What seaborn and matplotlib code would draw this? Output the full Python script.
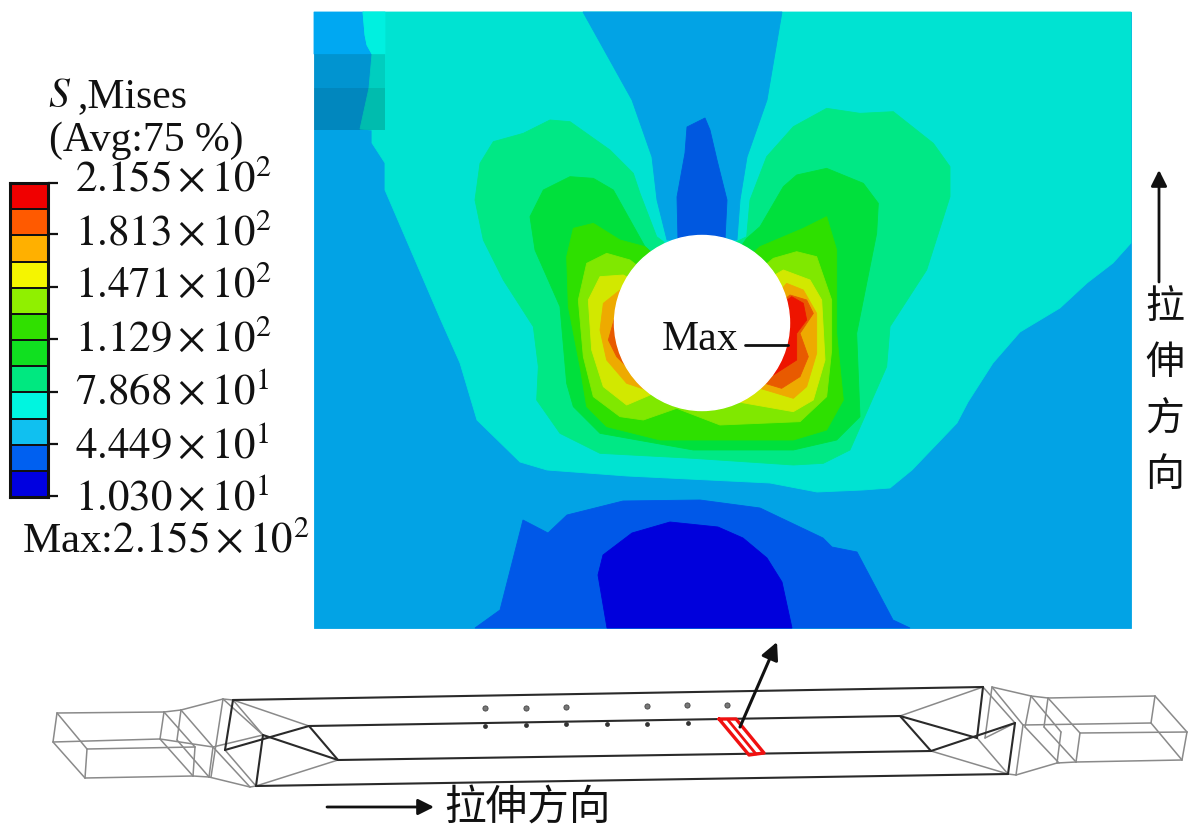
import numpy as np
import matplotlib
matplotlib.use("Agg")
import matplotlib.pyplot as plt
from matplotlib.colors import ListedColormap
from matplotlib.patches import Circle
import seaborn as sns

# ---------- legend ----------
legend_colors = ["#f00000", "#ff5a00", "#ffb000", "#f5f500", "#90f000", "#30e000",
                 "#10e020", "#00e880", "#00f5e0", "#10c0f0", "#0060f0", "#0000e0"]
legend_labels = [r"$2.155\times10^{2}$", r"$1.813\times10^{2}$", r"$1.471\times10^{2}$",
                 r"$1.129\times10^{2}$", r"$7.868\times10^{1}$", r"$4.449\times10^{1}$",
                 r"$1.030\times10^{1}$"]
legend_label_y = [180, 234, 286, 340, 393, 447, 499]
legend_tick_y = [183, 234, 287, 339, 392, 444, 496]

# ---------- contour bands (image pixels) ----------
col_base = "#02a3e5"
col_teal = "#00e3d2"
col_mint = "#00e885"
col_green = "#00e03c"
col_lime = "#2ee000"
col_yg = "#80e800"
col_yellow = "#d2e800"
col_orange = "#eeaa00"
col_dorange = "#e85a00"
col_red = "#ee1400"
col_mid = "#0058e8"
col_dark = "#0000dc"
col_wedge = "#02a3e5"
col_spike = "#0058e0"
col_corner = "#00a8f2"
col_cyan = "#00f0e0"

teal_outline = [(363, 12), (1131, 12), (1131, 243), (1113, 263), (1087, 283), (1060, 308),
                (1020, 332), (993, 363), (968, 402), (957, 423), (912, 470), (890, 488),
                (863, 490), (817, 492), (770, 483), (627, 476), (547, 470), (520, 462),
                (477, 420), (460, 363), (440, 318), (385, 190), (385, 163), (372, 143),
                (372, 130), (360, 129), (369, 88), (372, 54), (367, 45), (365, 35)]
wedge_outline = [(583, 12), (782, 12), (767, 100), (747, 157), (740, 200), (737, 240),
                 (667, 240), (657, 200), (652, 157), (632, 100)]
spike_outline = [(705, 118), (687, 127), (685, 153), (677, 197), (678, 240), (725, 240),
                 (727, 200), (717, 160), (710, 130)]
corner_outline = [(314, 12), (363, 12), (365, 35), (367, 45), (372, 54), (314, 54)]
cyan_outline = [(363, 12), (385, 12), (385, 54), (372, 54), (367, 45), (365, 35)]

mint_crop = [(610, 425), (590, 410), (540, 280), (520, 220), (450, 150), (330, 65), (270, 60),
             (190, 100), (100, 125), (60, 190), (45, 300), (70, 420), (130, 540), (220, 680),
             (235, 800), (230, 900), (300, 1000), (420, 1060), (700, 1075), (1000, 1095),
             (1090, 1090), (1170, 1050), (1280, 800), (1290, 680), (1400, 510), (1470, 290),
             (1470, 200), (1420, 130), (1300, 35), (1200, 40), (1100, 25), (1000, 80),
             (920, 170), (870, 300), (860, 410), (830, 425), (730, 600)]
green_crop = [(555, 440), (460, 270), (400, 235), (330, 230), (250, 270), (210, 350), (225, 450),
              (300, 620), (320, 850), (340, 920), (420, 1000), (700, 1050), (1000, 1050),
              (1130, 1020), (1200, 950), (1190, 700), (1250, 400), (1255, 310), (1210, 250),
              (1100, 205), (1010, 225), (970, 260), (900, 380), (860, 415), (730, 600)]
lime_crop = [(555, 440), (480, 420), (400, 370), (340, 385), (320, 470), (325, 620), (360, 800),
             (380, 920), (440, 980), (600, 1020), (800, 1020), (1000, 1020), (1100, 990),
             (1150, 900), (1130, 700), (1130, 450), (1100, 350), (1030, 385), (900, 440),
             (730, 600)]
yg_crop = [(510, 480), (440, 460), (380, 490), (355, 600), (370, 770), (400, 890), (480, 950),
           (550, 960), (650, 925), (780, 975), (1020, 965), (1100, 890), (1115, 750),
           (1115, 600), (1070, 470), (1010, 455), (940, 475), (730, 650)]
yellow_crop = [(490, 525), (420, 530), (385, 600), (395, 750), (430, 860), (500, 915), (570, 885),
               (730, 650), (830, 905), (1000, 935), (1060, 900), (1095, 780), (1085, 600),
               (1050, 540), (970, 510), (730, 650)]
orange_left_crop = [(480, 570), (430, 610), (420, 690), (440, 780), (500, 850), (560, 870), (650, 700)]
orange_right_crop = [(900, 865), (1000, 895), (1040, 860), (1070, 760), (1070, 640), (1030, 570),
                     (980, 550), (850, 700)]
dorange_left_crop = [(465, 650), (445, 720), (470, 770), (510, 810), (600, 700)]
dorange_right_crop = [(915, 850), (965, 865), (1020, 830), (1045, 770), (1020, 700), (1060, 640),
                      (1040, 600), (990, 585), (850, 700)]
red_right_crop = [(940, 825), (1010, 780), (1010, 700), (1040, 660), (1030, 610), (995, 590), (850, 700)]

mid_outline = [(475, 628), (500, 610), (523, 520), (548, 533), (567, 515), (623, 501), (700, 500),
               (760, 508), (823, 538), (832, 547), (857, 552), (893, 620), (910, 628)]
dark_outline = [(607, 628), (598, 575), (603, 555), (632, 533), (670, 522), (718, 527),
                (743, 538), (767, 558), (782, 582), (792, 628)]

# ---------- wireframe (image pixels) ----------
wire_thin = [
    ((57, 713), (164, 712)), ((57, 713), (53, 742)), ((57, 713), (87, 749)), ((53, 742), (85, 778)),
    ((87, 749), (85, 778)), ((85, 778), (193, 776)), ((53, 742), (160, 739)), ((87, 749), (195, 747)),
    ((164, 712), (160, 739)), ((164, 712), (195, 747)), ((160, 739), (193, 776)), ((195, 747), (193, 776)),
    ((164, 712), (181, 710)), ((181, 710), (223, 699)), ((223, 699), (233, 700)), ((181, 710), (177, 740)),
    ((181, 710), (213, 747)), ((177, 740), (209, 777)), ((193, 776), (209, 777)), ((209, 777), (250, 787)),
    ((213, 747), (209, 777)), ((223, 699), (211, 777)), ((213, 747), (250, 787)), ((223, 699), (263, 735)),
    ((160, 739), (213, 747)), ((213, 747), (263, 735)), ((233, 700), (309, 726)), ((256, 786), (338, 760)),
    ((233, 700), (263, 735)), ((225, 750), (256, 786)), ((250, 787), (256, 786)),
    ((900, 716), (983, 687)), ((931, 751), (1008, 774)), ((983, 687), (1015, 723)), ((977, 738), (1008, 774)),
    ((992, 687), (1023, 725)), ((992, 687), (985, 738)), ((985, 738), (1015, 723)), ((1023, 725), (1016, 775)),
    ((1008, 774), (1016, 775)), ((1016, 775), (1057, 763)), ((1057, 763), (1076, 762)), ((1076, 762), (1182, 760)),
    ((1182, 760), (1187, 732)), ((1155, 696), (1187, 732)), ((1155, 696), (1151, 723)), ((1151, 723), (1182, 760)),
    ((1048, 698), (1155, 696)), ((992, 687), (1031, 696)), ((1031, 696), (1048, 698)), ((1031, 696), (1061, 732)),
    ((1048, 698), (1080, 733)), ((1080, 733), (1076, 762)), ((1061, 732), (1057, 763)), ((1080, 733), (1187, 732)),
    ((1023, 725), (1151, 723)), ((1031, 696), (1025, 727)), ((1048, 698), (1044, 727)), ((1025, 727), (1059, 763)),
    ((1044, 727), (1076, 762)),
]
wire_thick = [
    ((233, 700), (983, 687)), ((309, 726), (900, 716)), ((338, 760), (931, 751)), ((256, 786), (1008, 774)),
    ((309, 726), (338, 760)), ((233, 700), (225, 750)), ((225, 750), (309, 726)), ((263, 735), (338, 760)),
    ((263, 735), (256, 786)), ((900, 716), (931, 751)), ((900, 716), (977, 738)), ((931, 751), (1015, 723)),
    ((983, 687), (977, 738)), ((1015, 723), (1008, 774)),
]
red_box = [(719, 719), (736, 719), (764, 753), (749, 755)]
red_mid = [(728, 720), (756, 754)]
hole_top_x = [485, 526, 566, 647, 687, 727]
hole_top_y = [708, 708, 707, 706, 705, 705]
hole_low_x = [485, 526, 566, 607, 647, 688]
hole_low_y = [726, 725, 724, 724, 724, 723]

direction_chars = ["拉", "伸", "方", "向"]
direction_y = [308, 363, 420, 475]

# ---------- drawing ----------
sns.set_theme(style="white")
plt.rcParams["font.family"] = ["Liberation Serif", "Noto Sans CJK SC", "DejaVu Sans"]
plt.rcParams["mathtext.fontset"] = "stix"

fig = plt.figure(figsize=(12, 8.4), dpi=100)
ax = fig.add_axes([0, 0, 1, 1])
ax.set_xlim(0, 1200)
ax.set_ylim(840, 0)
ax.axis("off")


def from_crop(points):
    return [(460 + x / 3, 100 + y / 3) for x, y in points]


def fill(points, color, z):
    xs, ys = zip(*points)
    ax.fill(xs, ys, facecolor=color, edgecolor=color, linewidth=0.6, zorder=z)


fill([(314, 12), (1131, 12), (1131, 628), (314, 628)], col_base, 1)
fill(corner_outline, col_corner, 1.5)
fill(teal_outline, col_teal, 2)
fill(cyan_outline, col_cyan, 2.5)
fill(mid_outline, col_mid, 2.5)
fill(dark_outline, col_dark, 2.6)
bands = [(mint_crop, col_mint), (green_crop, col_green), (lime_crop, col_lime), (yg_crop, col_yg),
         (yellow_crop, col_yellow), (orange_left_crop, col_orange), (orange_right_crop, col_orange),
         (dorange_left_crop, col_dorange), (dorange_right_crop, col_dorange), (red_right_crop, col_red)]
fill(wedge_outline, col_wedge, 3)
fill(spike_outline, col_spike, 3.1)
for i, (pts, c) in enumerate(bands):
    fill(from_crop(pts), c, 4 + i * 0.1)
ax.add_patch(Circle((702, 323), 87.5, facecolor="white", edgecolor="white", zorder=6))
ax.fill([314, 385, 385, 314], [54, 54, 88, 88], color="black", alpha=0.09, lw=0, zorder=5)
ax.fill([314, 385, 385, 314], [88, 88, 130, 130], color="black", alpha=0.17, lw=0, zorder=5)

ax.text(700, 340, "Max", fontsize=30, ha="center", va="center", color="#111111", zorder=7)
ax.plot([745, 788], [345, 345], color="#111111", lw=2, zorder=7)

# legend: colour bar
cax = fig.add_axes([9.5 / 1200, 1 - 497 / 840, 38.5 / 1200, 314 / 840])
sns.heatmap(np.arange(len(legend_colors)).reshape(-1, 1), ax=cax, cmap=ListedColormap(legend_colors),
            cbar=False, linewidths=1.3, linecolor="#111111", xticklabels=False, yticklabels=False)
for side in cax.spines.values():
    side.set_visible(True)
    side.set_linewidth(2.2)
    side.set_color("#111111")
for y in legend_tick_y:
    ax.plot([48, 58], [y, y], color="#111111", lw=1.6, zorder=7, solid_capstyle="butt")
for lab, y in zip(legend_labels, legend_label_y):
    ax.text(75, y, lab, fontsize=31, ha="left", va="center", color="#111111")
ax.text(48, 97, r"$S$", fontsize=30, ha="left", va="center", color="#111111")
ax.text(77, 97, ",Mises", fontsize=30, ha="left", va="center", color="#111111")
ax.text(146, 141, "(Avg:75 %)", fontsize=30, ha="center", va="center", color="#111111")
ax.text(22, 541, r"Max:$2.155\times10^{2}$", fontsize=31, ha="left", va="center", color="#111111")

# direction arrows and labels
ax.annotate("", xy=(1159, 170), xytext=(1159, 282),
            arrowprops=dict(arrowstyle="-|>", color="#111111", lw=2, mutation_scale=24, shrinkA=0, shrinkB=0))
for ch, y in zip(direction_chars, direction_y):
    ax.text(1165, y, ch, fontsize=28, ha="center", va="center", color="#111111", family=["Noto Sans CJK SC"])
ax.annotate("", xy=(434, 807), xytext=(327, 807),
            arrowprops=dict(arrowstyle="-|>", color="#111111", lw=2, mutation_scale=24, shrinkA=0, shrinkB=0))
ax.text(527, 809, "".join(direction_chars), fontsize=30, ha="center", va="center", color="#111111",
        family=["Noto Sans CJK SC"])

# wireframe
for a, b in wire_thin:
    ax.plot([a[0], b[0]], [a[1], b[1]], color="#8a8a8a", lw=1.1, zorder=3)
for a, b in wire_thick:
    ax.plot([a[0], b[0]], [a[1], b[1]], color="#2a2a2a", lw=1.5, zorder=3)
rx, ry = zip(*(red_box + red_box[:1]))
ax.plot(rx, ry, color="#f01010", lw=2.4, zorder=4)
ax.plot(*zip(*red_mid), color="#f01010", lw=2.0, zorder=4)
ax.annotate("", xy=(777, 642), xytext=(740, 727),
            arrowprops=dict(arrowstyle="-|>", color="#111111", lw=2.2, mutation_scale=26, shrinkA=0, shrinkB=0),
            zorder=5)
ax.scatter(hole_top_x, hole_top_y, s=14, color="#777777", edgecolor="#444444", lw=0.6, zorder=4)
ax.scatter(hole_low_x, hole_low_y, s=12, color="#333333", lw=0, zorder=4)

fig.savefig("out.png", dpi=100, facecolor="white")
